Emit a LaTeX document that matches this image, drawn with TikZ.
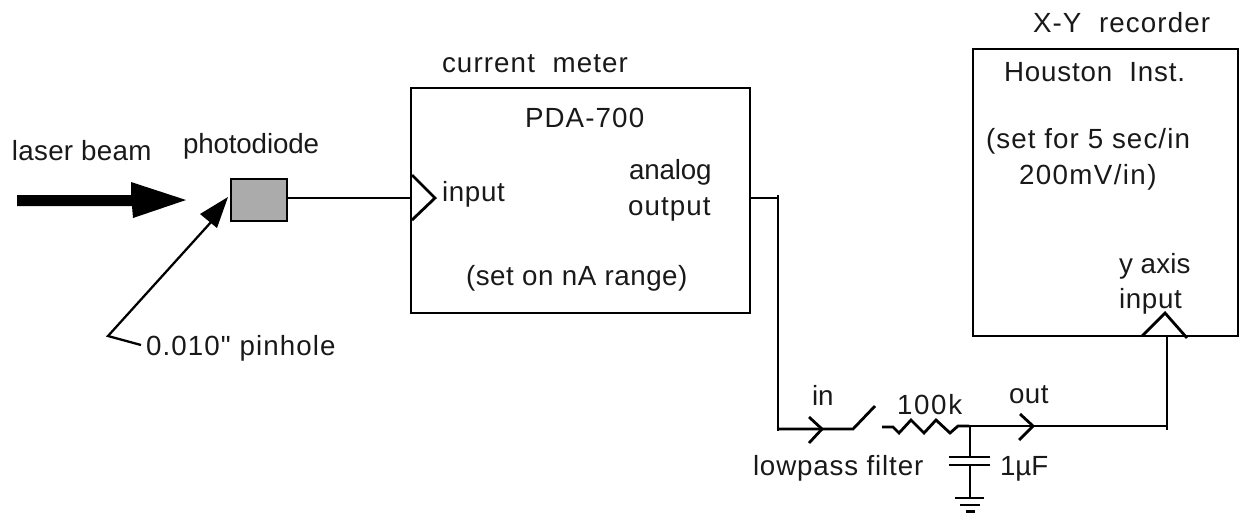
\documentclass[tikz,border=0pt]{standalone}
\usepackage{fontspec}
\newfontfamily\rawf{Liberation Sans}
\newcommand{\lsp}[1]{\addfontfeature{LetterSpace=#1}}
\tikzset{
  x=0.75pt,y=-0.75pt,
  wire/.style={draw=black,line width=2.1pt,line cap=butt,line join=miter},
  thinwire/.style={draw=black,line width=1.7pt},
  lbl/.style={inner sep=0pt,outer sep=0pt,anchor=base west,text=black!90,font=\rawf\fontsize{20.8}{24}\selectfont}
}
\begin{document}
\begin{tikzpicture}
\useasboundingbox (0,0) rectangle (1241,512);
% boxes
\coordinate (mNW) at (411,88); \coordinate (mSE) at (750,313);
\coordinate (rNW) at (973,49); \coordinate (rSE) at (1238,336);
\draw[wire] (mNW) rectangle (mSE);
\draw[wire] (rNW) rectangle (rSE);
\draw[wire,fill=black!33] (231,179) rectangle (287,221);
\coordinate (pdE) at (287,198);
\coordinate (inT) at (412,175); \coordinate (inP) at (435,198); \coordinate (inB) at (412,220); \coordinate (inW) at (412,198);
% laser beam
\fill[black] (17,195) -- (131,195) -- (131,182) -- (186,200) -- (133,218) -- (132,206) -- (17,206) -- cycle;
% pinhole arrow
\coordinate (pa) at (108,336); \coordinate (pb) at (141,345);
\coordinate (tipA) at (228,197);
\draw[thinwire] (pb) -- (pa) -- (212,221);
\fill[black] (tipA) -- (200,214) -- (217,228) -- cycle;
% input
\draw[wire] (pdE) -- (inW);
\draw[wire] (inT) -- (inP) -- (inB);
% output to filter
\coordinate (outA) at (750,198); \coordinate (corner1) at (778,198); \coordinate (corner2) at (778,431);
\draw[wire] (outA) -- (corner1);
\draw[wire] (778,195) -- (corner2);
\coordinate (swA) at (853,429); \coordinate (swB) at (875,406);
\draw[wire] (777,429) -- (swA) -- (swB);
\draw[wire] (809,417) -- (822,429) -- (809,443);
% resistor
\coordinate (rA) at (882,427); \coordinate (rB) at (969,426);
\draw[wire] (rA) -- (893,427) -- (899,433) -- (911,420) -- (924,433) -- (936,420) -- (950,433) -- (958,426) -- (rB);
% out wire
\coordinate (wireEnd) at (1167,426);
\draw[wire] (rB) -- (wireEnd);
\draw[wire] (1167,335) -- (1167,430);
\draw[wire] (1020,414) -- (1033,426) -- (1019,440);
% input triangle on recorder
\draw[wire] (1142,336) -- (1165,313) -- (1187,338);
% capacitor and ground
\coordinate (capT) at (970,426); \coordinate (capB) at (970,498);
\draw[wire] (capT) -- (970,457);
\draw[wire] (949,457) -- (990,457);
\draw[wire] (949,465) -- (990,465);
\draw[wire] (970,465) -- (capB);
\draw[wire] (955,498) -- (984,498);
\draw[wire] (960,505) -- (980,505);
\draw[wire] (966,511.5) -- (975,511.5);
% labels
\node[lbl] (tlaser) at (12,160) {\lsp{1}laser beam};
\node[lbl] (tphoto) at (183,153) {\lsp{-0.5}photodiode};
\node[lbl] (tpin) at (146,355) {\lsp{4}0.010" pinhole};
\node[lbl] (tmeter) at (442,72) {\lsp{4}current\ \ meter};
\node[lbl] (tpda) at (525,127) {\lsp{4}PDA-700};
\node[lbl] (tinput) at (442,201) {\lsp{2.5}input};
\node[lbl] (tanalog) at (629,179) {\lsp{-0.5}analog};
\node[lbl] (toutput) at (628,215) {\lsp{4}output};
\node[lbl] (trange) at (466,285) {\lsp{2}(set on nA range)};
\node[lbl] (txy) at (1033,32) {\lsp{4}X-Y\ \ recorder};
\node[lbl] (thou) at (1004,81) {\lsp{3}Houston\ \ Inst.};
\node[lbl] (tset) at (986,148) {\lsp{4}(set for 5 sec/in};
\node[lbl] (tmv) at (1019,184) {\lsp{5}200mV/in)};
\node[lbl] (ty) at (1119,273) {\lsp{0.5}y axis};
\node[lbl] (ti) at (1119,308) {\lsp{2.5}input};
\node[lbl] (tin) at (812,405) {in};
\node[lbl] (tk) at (897,414) {\lsp{6}100k};
\node[lbl] (tout) at (1009,403) {\lsp{2}out};
\node[lbl] (tlow) at (753,475) {\lsp{3}lowpass filter};
\node[lbl] (tuf) at (1000,475) {1µF};
\end{tikzpicture}
\end{document}
